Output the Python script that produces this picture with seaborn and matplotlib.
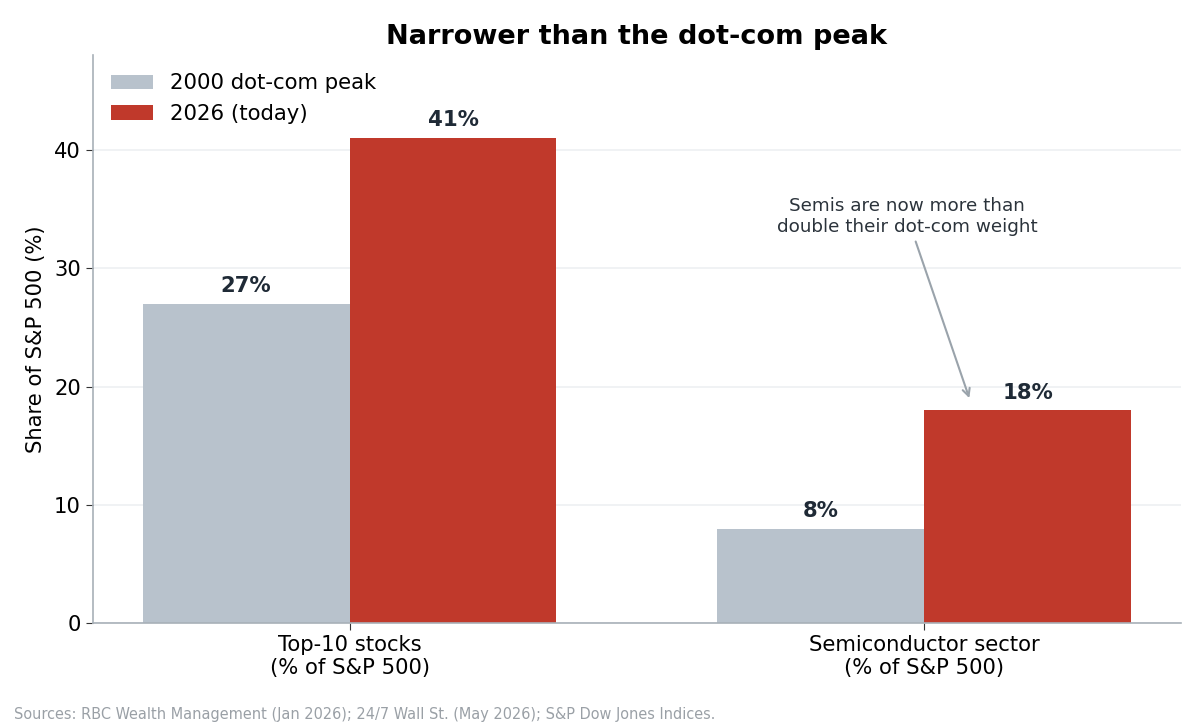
import matplotlib
matplotlib.use("Agg")
import matplotlib.pyplot as plt
import seaborn as sns
import pandas as pd

categories = ["Top-10 stocks\n(% of S&P 500)", "Semiconductor sector\n(% of S&P 500)"]
series = ["2000 dot-com peak", "2026 (today)"]
dotcom = [27, 8]
today = [41, 18]
colors = ["#b8c2cc", "#c0392b"]

df = pd.DataFrame({
    "category": categories * 2,
    "period": [series[0]] * 2 + [series[1]] * 2,
    "value": dotcom + today,
})

sns.set_style("white")
plt.rcParams["font.family"] = ["DejaVu Sans"]
plt.rcParams["text.color"] = "black"
plt.rcParams["axes.labelcolor"] = "black"
plt.rcParams["xtick.color"] = "black"
plt.rcParams["ytick.color"] = "black"

fig, ax = plt.subplots(figsize=(12.04, 7.28), dpi=100)
sns.barplot(data=df, x="category", y="value", hue="period", palette=colors,
            width=0.72, saturation=1, linewidth=0, ax=ax, zorder=2)

# value labels
for cont in ax.containers:
    for bar in cont:
        h = bar.get_height()
        ax.text(bar.get_x() + bar.get_width() / 2, h + 0.65, f"{h:.0f}%",
                ha="center", va="bottom", fontsize=15.3, fontweight="bold",
                color="#1f2a36")

ax.set_ylim(0, 48)
ax.set_xlim(-0.447, 1.447)
ax.set_yticks([0, 10, 20, 30, 40])
ax.yaxis.grid(True, color="#eef0f2", linewidth=1.2, zorder=0)
ax.set_axisbelow(True)
for s in ["top", "right"]:
    ax.spines[s].set_visible(False)
for s in ["left", "bottom"]:
    ax.spines[s].set_color("#a8b0b8")
    ax.spines[s].set_linewidth(1.2)
ax.tick_params(axis="both", labelsize=15.2, length=5, color="#333333",
               left=True, bottom=True)
ax.set_xlabel("")
ax.set_ylabel("Share of S&P 500 (%)", fontsize=15.2, labelpad=6)
ax.set_title("Narrower than the dot-com peak", fontsize=19.5, fontweight="bold",
             pad=8, color="black")

leg = ax.legend(loc="upper left", frameon=False, fontsize=15.3,
                handlelength=2.0, handleheight=0.7, borderaxespad=0.45)

ax.annotate("Semis are now more than\ndouble their dot-com weight",
            xy=(1.08, 18.8), xytext=(0.97, 34.4),
            ha="center", va="center", fontsize=13.2, color="#2b333b",
            arrowprops=dict(arrowstyle="->", color="#9aa3ab", lw=1.5))

fig.text(0.012, 0.012, "Sources: RBC Wealth Management (Jan 2026); 24/7 Wall St. (May 2026); S&P Dow Jones Indices.",
         fontsize=11.6, color="#9aa0a6", fontstretch="condensed")

fig.subplots_adjust(left=0.077, right=0.981, top=0.924, bottom=0.144)
fig.savefig("out.png", dpi=100)
